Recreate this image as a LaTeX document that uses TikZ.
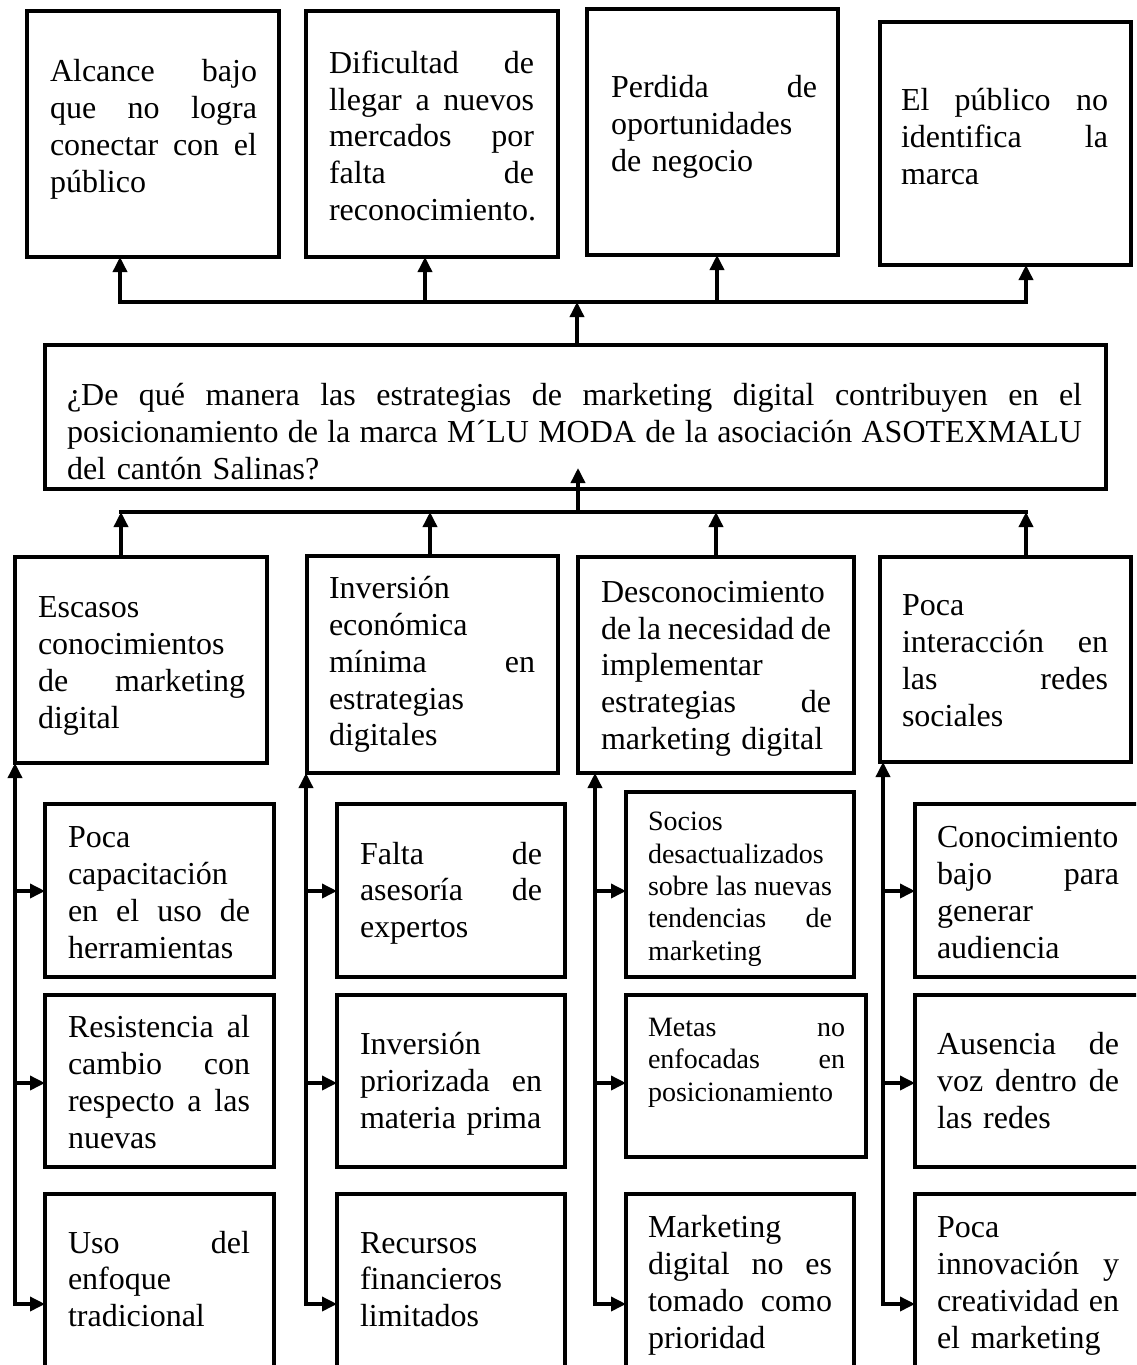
\documentclass[tikz,border=0pt]{standalone}
\usepackage{fontspec}
\setmainfont{Liberation Serif}
\usetikzlibrary{arrows.meta,fit}
\newcommand\jl[1]{\leavevmode\hbox to\linewidth{\spaceskip=0.25em plus 1fil minus 0.1em\relax #1}}
\begin{document}
\begin{tikzpicture}[x=1pt,y=-1pt,
  box/.style={draw, line width=4pt, inner sep=0pt, outer sep=0pt},
  txt/.style={inner sep=0pt, align=left, yshift=-3.5pt, font=\fontsize{32}{36.8}\selectfont,
              execute at begin node=\strut, execute at end node=\strut},
  small/.style={font=\fontsize{28}{32.3}\selectfont},
  ln/.style={line width=3.5pt, line cap=rect},
  arr/.style={line width=3.5pt, line cap=rect, -{Triangle[length=15pt,width=14pt]}}]
\useasboundingbox (0,0) rectangle (1136,1365);
\clip (0,0) rectangle (1136,1365);

% ---------- effects (top row) ----------
\node[box, fit={(27,11) (279,257)}] (e1) {};
\node[box, fit={(306,11) (558,257)}] (e2) {};
\node[box, fit={(587,9) (838,255)}] (e3) {};
\node[box, fit={(880,22) (1131,265)}] (e4) {};
\node[txt, text width=207pt] (t1) at (153.5,126) {\jl{Alcance bajo}\\\jl{que no logra}\\\jl{conectar con el}\\público};
\node[txt, text width=205pt] (t2) at (431.5,136) {\jl{Dificultad de}\\\jl{llegar a nuevos}\\\jl{mercados por}\\\jl{falta de}\\reconocimiento.};
\node[txt, text width=206pt] (t3) at (714,123.5) {\jl{Perdida de}\\oportunidades\\de negocio};
\node[txt, text width=207pt] (t4) at (1004.5,136.5) {\jl{El público no}\\\jl{identifica la}\\marca};

% ---------- central problem ----------
\node[box, fit={(45,345) (1106,489)}] (main) {};
\node[txt, text width=1015pt] (tm) at (574.5,431.5) {\jl{¿De qué manera las estrategias de marketing digital contribuyen en el}\\\jl{posicionamiento de la marca M´LU MODA de la asociación ASOTEXMALU}\\del cantón Salinas?};

% ---------- causes ----------
\node[box, fit={(15,557) (267,763)}] (cA) {};
\node[box, fit={(307,556) (558,773)}] (cB) {};
\node[box, fit={(578,557) (854,773)}] (cC) {};
\node[box, fit={(880,557) (1131,762)}] (cD) {};
\node[txt, text width=207pt] (tA) at (141.5,662) {Escasos\\conocimientos\\\jl{de marketing}\\digital};
\node[txt, text width=206pt] (tB) at (432,661.5) {Inversión\\económica\\\jl{mínima en}\\estrategias\\digitales};
\node[txt, text width=230pt] (tC) at (716,665) {Desconocimiento\\\jl{de la necesidad de}\\implementar\\\jl{estrategias de}\\marketing digital};
\node[txt, text width=206pt] (tD) at (1005,660) {Poca\\\jl{interacción en}\\\jl{las redes}\\sociales};

% ---------- sub causes ----------
\node[box, fit={(45,804) (274,977)}] (s11) {};
\node[box, fit={(45,995) (274,1167)}] (s12) {};
\node[box, fit={(45,1194) (274,1380)}] (s13) {};
\node[box, fit={(337,804) (565,977)}] (s21) {};
\node[box, fit={(337,995) (565,1167)}] (s22) {};
\node[box, fit={(337,1194) (565,1380)}] (s23) {};
\node[box, fit={(626,792) (854,977)}] (s31) {};
\node[box, fit={(626,995) (866,1157)}] (s32) {};
\node[box, fit={(626,1194) (854,1380)}] (s33) {};
\node[box, fit={(915,804) (1150,977)}] (s41) {};
\node[box, fit={(915,995) (1150,1167)}] (s42) {};
\node[box, fit={(915,1194) (1150,1380)}] (s43) {};

\node[txt, text width=182pt] (u11) at (159,892) {Poca\\capacitación\\\jl{en el uso de}\\herramientas};
\node[txt, text width=182pt] (u12) at (159,1082) {\jl{Resistencia al}\\\jl{cambio con}\\\jl{respecto a las}\\nuevas};
\node[txt, text width=182pt] (u13) at (159,1279) {\jl{Uso del}\\enfoque\\tradicional};
\node[txt, text width=182pt] (u21) at (451,890) {\jl{Falta de}\\\jl{asesoría de}\\expertos};
\node[txt, text width=182pt] (u22) at (451,1080.5) {Inversión\\\jl{priorizada en}\\materia prima};
\node[txt, text width=182pt] (u23) at (451,1279) {Recursos\\financieros\\limitados};
\node[txt, small, text width=184pt] (u31) at (740,885.5) {Socios\\desactualizados\\\jl{sobre las nuevas}\\\jl{tendencias de}\\marketing};
\node[txt, small, text width=197pt] (u32) at (746.5,1059) {\jl{Metas no}\\\jl{enfocadas en}\\posicionamiento};
\node[txt, text width=184pt] (u33) at (740,1282) {Marketing\\\jl{digital no es}\\\jl{tomado como}\\prioridad};
\node[txt, text width=182pt] (u41) at (1028,892) {Conocimiento\\\jl{bajo para}\\generar\\audiencia};
\node[txt, text width=182pt] (u42) at (1028,1080.5) {\jl{Ausencia de}\\\jl{voz dentro de}\\las redes};
\node[txt, text width=182pt] (u43) at (1028,1282) {Poca\\\jl{innovación y}\\\jl{creatividad en}\\el marketing};

% ---------- connectors: problem -> effects ----------
\coordinate (jt) at (577,302);
\coordinate (a1) at (120,302);
\coordinate (a2) at (425,302);
\coordinate (a3) at (717,302);
\coordinate (a4) at (1026,302);
\draw[ln] (a1) -- (a4);
\draw[arr] (main.north -| jt) -- (jt);
\draw[arr] (a1) -- (a1 |- e1.south);
\draw[arr] (a2) -- (a2 |- e2.south);
\draw[arr] (a3) -- (a3 |- e3.south);
\draw[arr] (a4) -- (a4 |- e4.south);

% ---------- connectors: causes -> problem ----------
\coordinate (jb) at (578,512);
\coordinate (b1) at (121,512);
\coordinate (b2) at (430,512);
\coordinate (b3) at (716,512);
\coordinate (b4) at (1026,512);
\path (main.south -| jb) ++(0,-21) coordinate (jbt);
\draw[ln] (b1) -- (b4);
\draw[arr] (jb) -- (jbt);
\draw[arr] (b1 |- cA.north) -- (b1);
\draw[arr] (b2 |- cB.north) -- (b2);
\draw[arr] (b3 |- cC.north) -- (b3);
\draw[arr] (b4 |- cD.north) -- (b4);

% ---------- connectors: sub causes ----------
\coordinate (v1) at (15,0);
\coordinate (v2) at (306,0);
\coordinate (v3) at (595,0);
\coordinate (v4) at (883,0);
\coordinate (r1) at (0,891);
\coordinate (r2) at (0,1083);
\coordinate (r3) at (0,1304);

\draw[arr] (v1 |- r3) -- (v1 |- cA.south);
\draw[arr] (v1 |- r1) -- (s11.west |- r1);
\draw[arr] (v1 |- r2) -- (s12.west |- r2);
\draw[arr] (v1 |- r3) -- (s13.west |- r3);

\draw[arr] (v2 |- r3) -- (v2 |- cB.south);
\draw[arr] (v2 |- r1) -- (s21.west |- r1);
\draw[arr] (v2 |- r2) -- (s22.west |- r2);
\draw[arr] (v2 |- r3) -- (s23.west |- r3);

\draw[arr] (v3 |- r3) -- (v3 |- cC.south);
\draw[arr] (v3 |- r1) -- (s31.west |- r1);
\draw[arr] (v3 |- r2) -- (s32.west |- r2);
\draw[arr] (v3 |- r3) -- (s33.west |- r3);

\draw[arr] (v4 |- r3) -- (v4 |- cD.south);
\draw[arr] (v4 |- r1) -- (s41.west |- r1);
\draw[arr] (v4 |- r2) -- (s42.west |- r2);
\draw[arr] (v4 |- r3) -- (s43.west |- r3);
\end{tikzpicture}
\end{document}
